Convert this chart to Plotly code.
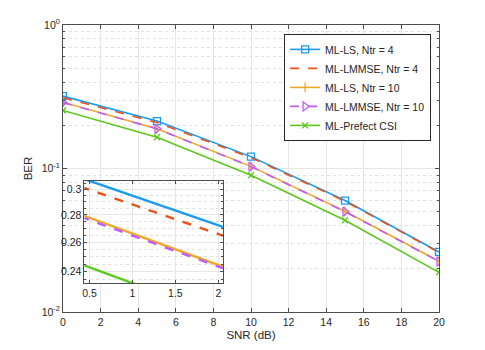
import plotly.graph_objects as go

snr = [0, 5, 10, 15, 20]

ber_ls_4 = [0.3196, 0.214, 0.121, 0.0598, 0.0262]
ber_lmmse_4 = [0.312, 0.209, 0.119, 0.0592, 0.0260]
ber_ls_10 = [0.290, 0.189, 0.1035, 0.0503, 0.0226]
ber_lmmse_10 = [0.288, 0.189, 0.1030, 0.0500, 0.0225]
ber_perfect = [0.2535, 0.165, 0.0898, 0.0436, 0.0189]

names = ["ML-LS, Ntr = 4", "ML-LMMSE, Ntr = 4", "ML-LS, Ntr = 10",
         "ML-LMMSE, Ntr = 10", "ML-Prefect CSI"]

x_ticks = list(range(0, 21, 2))
y_ticks = [0.01, 0.1, 1]
y_ticktext = ["10<sup>-2</sup>", "10<sup>-1</sup>", "10<sup>0</sup>"]
y_minor = [m * d for d in (0.01, 0.1) for m in range(2, 10)]

inset_x_ticks = [0.5, 1, 1.5, 2]
inset_y_ticks = [0.24, 0.26, 0.28, 0.3]
inset_y_minor = [0.225 + 0.005 * i for i in range(18)]

series = [ber_ls_4, ber_lmmse_4, ber_ls_10, ber_lmmse_10, ber_perfect]
colors = ["#1A9AF0", "#E6551B", "#F0A828", "#BF5CF2", "#5CC81E"]
dashes = ["solid", "dash", "solid", "dash", "solid"]
symbols = ["square-open", None, "line-ns-open", "triangle-right-open", "x-thin-open"]
sizes = [7, 0, 7, 8, 6]

FONT = "Liberation Sans, Arial, sans-serif"
AXIS_COL = "#4d4d4d"
GRID_COL = "#e6e6e6"
MINOR_COL = "#e0e0e0"

fig = go.Figure()

for y, name, c, d, s, sz in zip(series, names, colors, dashes, symbols, sizes):
    fig.add_trace(go.Scatter(
        x=snr, y=y, name=name,
        mode="lines+markers" if s else "lines",
        line=dict(color=c, width=1.6, dash=d),
        marker=dict(symbol=s or "circle", size=sz, color=c,
                    line=dict(color=c, width=1.3)),
        xaxis="x", yaxis="y",
    ))

# inset zoom
for y, c, d in zip(series, colors, dashes):
    fig.add_trace(go.Scatter(
        x=snr, y=y, mode="lines", showlegend=False,
        line=dict(color=c, width=2.4, dash=d),
        xaxis="x2", yaxis="y2",
    ))

common = dict(showline=True, linecolor=AXIS_COL, linewidth=1, mirror="ticks",
              ticks="inside", tickcolor=AXIS_COL, zeroline=False,
              automargin=False,
              tickfont=dict(size=10.5, color="#262626", family=FONT))

fig.update_layout(
    width=485, height=350,
    margin=dict(l=55, r=54, t=17, b=46),
    paper_bgcolor="white", plot_bgcolor="white",
    font=dict(family=FONT, color="#262626"),
    showlegend=True,
    legend=dict(x=0.979, y=0.969, xanchor="right", yanchor="top",
                bgcolor="white", bordercolor="#262626", borderwidth=1,
                font=dict(size=10.5, family=FONT), tracegroupgap=0,
                itemwidth=30),
    xaxis=dict(range=[0, 20], tickvals=x_ticks, ticklen=4,
               showgrid=True, gridcolor=GRID_COL,
               title=dict(text="SNR (dB)", font=dict(size=11.5), standoff=4),
               **common),
    yaxis=dict(type="log", range=[-2, 0], tickvals=y_ticks, ticktext=y_ticktext,
               ticklen=4, showgrid=True, gridcolor=GRID_COL,
               minor=dict(tickvals=y_minor, ticks="inside", ticklen=2,
                          tickcolor=AXIS_COL, showgrid=True,
                          gridcolor=MINOR_COL, griddash="dot"),
               title=dict(text="BER", font=dict(size=11.5), standoff=6),
               **common),
    xaxis2=dict(domain=[0.057, 0.426], anchor="y2", range=[0.442, 2.056],
                tickvals=inset_x_ticks, ticktext=["0.5", "1", "1.5", "2"],
                ticklen=3, showgrid=True, gridcolor=GRID_COL, **common),
    yaxis2=dict(domain=[0.1, 0.457], anchor="x2", type="log",
                range=[-0.6335, -0.5128], tickvals=inset_y_ticks,
                ticktext=["0.24", "0.26", "0.28", "0.3"],
                ticklen=3, showgrid=True, gridcolor=GRID_COL,
                minor=dict(tickvals=inset_y_minor, ticks="inside", ticklen=2,
                           tickcolor=AXIS_COL, showgrid=True,
                           gridcolor=MINOR_COL, griddash="dot"),
                **common),
)

fig.write_html("out.html")
